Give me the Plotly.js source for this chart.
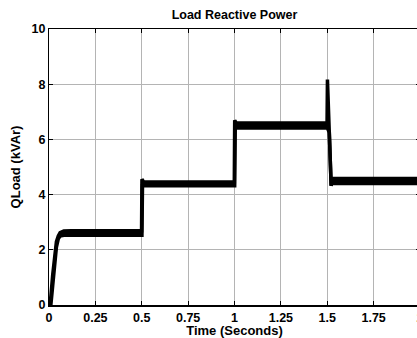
<!DOCTYPE html>
<html>
<head>
<meta charset="utf-8">
<script src="https://cdn.plot.ly/plotly-3.0.1.min.js"></script>
<style>
html, body { margin: 0; padding: 0; overflow: hidden; background: #fff; }
#chart { width: 430px; height: 338px; }
</style>
</head>
<body>
<div id="chart"></div>
<script>
// Time (seconds)
var timeSec = [0, 0.01, 0.02, 0.03, 0.04, 0.05, 0.06, 0.08, 0.12, 0.3, 0.499,
               0.501, 0.504, 0.51, 0.7, 0.999,
               1.001, 1.004, 1.01, 1.25, 1.499,
               1.501, 1.511, 1.521, 1.524, 1.7, 2.0];
// Upper envelope of QLoad ripple band (kVAr)
var qUpper = [0, 0.3, 1.1, 1.8, 2.3, 2.5, 2.62, 2.68, 2.69, 2.69, 2.69,
              4.56, 4.52, 4.46, 4.46, 4.46,
              6.69, 6.64, 6.59, 6.59, 6.59,
              8.17, 6.25, 4.32, 4.58, 4.58, 4.58];
// Lower envelope of QLoad ripple band (kVAr)
var qLower = [0, 0.0, 0.7, 1.45, 2.1, 2.4, 2.5, 2.53, 2.53, 2.53, 2.53,
              2.53, 4.32, 4.32, 4.32, 4.32,
              4.32, 6.41, 6.41, 6.41, 6.41,
              6.41, 6.25, 4.32, 4.40, 4.40, 4.40];

var xTicks = [0, 0.25, 0.5, 0.75, 1, 1.25, 1.5, 1.75, 2];
var xTickText = ['0', '0.25', '0.5', '0.75', '1', '1.25', '1.5', '1.75', '2'];
var yTicks = [0, 2, 4, 6, 8, 10];

var fontFam = 'Liberation Sans, Arial, sans-serif';

var traces = [
  { x: timeSec, y: qLower, type: 'scatter', mode: 'lines',
    line: { color: '#000', width: 3.5 }, hoverinfo: 'skip', showlegend: false },
  { x: timeSec, y: qUpper, type: 'scatter', mode: 'lines', fill: 'tonexty',
    fillcolor: '#000', line: { color: '#000', width: 3.5 }, hoverinfo: 'skip', showlegend: false }
];

var layout = {
  width: 430, height: 338,
  margin: { l: 49, r: 10, t: 29, b: 33 },
  paper_bgcolor: '#fff', plot_bgcolor: '#fff',
  showlegend: false,
  title: { text: 'Load Reactive Power', x: 0.5, xanchor: 'center', xref: 'paper',
           y: 0.958, yanchor: 'middle', yref: 'container',
           font: { family: fontFam, size: 12.5, color: '#000', weight: 'bold' } },
  xaxis: {
    range: [0, 2], tickvals: xTicks, ticktext: xTickText,
    showgrid: true, gridcolor: '#b4b4b4', gridwidth: 1,
    zeroline: false, showline: true, linecolor: '#000', linewidth: 1.5, mirror: 'allticks',
    ticks: 'inside', ticklen: 4, tickcolor: '#000',
    tickfont: { family: fontFam, size: 12.5, color: '#000', weight: 'bold' },
    title: { text: 'Time (Seconds)', standoff: 2,
             font: { family: fontFam, size: 13, color: '#000', weight: 'bold' } }
  },
  yaxis: {
    range: [0, 10], tickvals: yTicks,
    showgrid: true, gridcolor: '#b4b4b4', gridwidth: 1,
    zeroline: false, showline: true, linecolor: '#000', linewidth: 1, mirror: 'allticks',
    ticks: 'inside', ticklen: 4, tickcolor: '#000',
    tickfont: { family: fontFam, size: 12.5, color: '#000', weight: 'bold' },
    title: { text: 'QLoad (kVAr)', standoff: 8,
             font: { family: fontFam, size: 13, color: '#000', weight: 'bold' } }
  }
};

Plotly.newPlot('chart', traces, layout, { staticPlot: true, displayModeBar: false });
</script>
</body>
</html>
